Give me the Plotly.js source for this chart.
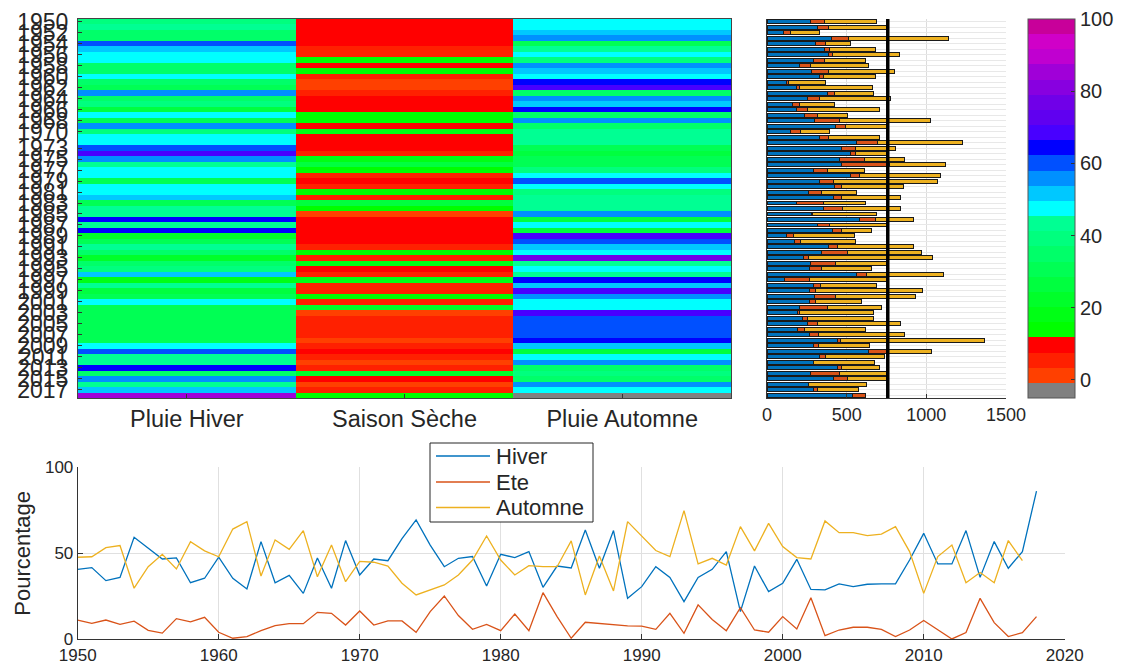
<!DOCTYPE html>
<html>
<head>
<meta charset="utf-8">
<script src="https://cdn.plot.ly/plotly-3.0.1.min.js"></script>
<style>html,body{margin:0;padding:0;background:#fff;}#chart{width:1122px;height:666px;}</style>
</head>
<body>
<div id="chart"></div>
<script>
// ---- data ----
const annees = [1950,1951,1952,1953,1954,1955,1956,1957,1958,1959,1960,1961,1962,1963,1964,1965,1966,1967,1968,1969,
1970,1971,1972,1973,1974,1975,1976,1977,1978,1979,1980,1981,1982,1983,1984,1985,1986,1987,1988,1989,
1990,1991,1992,1993,1994,1995,1996,1997,1998,1999,2000,2001,2002,2003,2004,2005,2006,2007,2008,2009,
2010,2011,2012,2013,2014,2015,2016,2017,2018];

const saisons = ['Pluie Hiver', 'Saison Sèche', 'Pluie Automne'];
const nomsSeries = ['Hiver', 'Ete', 'Automne'];

// percentages
const hiverPct = [40.7,41.7,34.1,36,59.3,52.9,46.7,47.3,32.9,35.5,47.7,35.5,29.3,56.8,32.9,37.2,26.7,47.3,29.7,57.4,
37.4,46.7,45.7,58.5,69.4,54.8,42.2,47.1,48.1,31,49.4,47.5,51,30.2,42.6,41.5,63.6,41.3,63.2,23.8,
30.6,42.2,36,21.9,36,40.7,51,16.1,42.6,27.7,32.6,46.5,29,28.7,32.2,30.6,32,32.2,32.2,46.1,
61.6,43.8,43.8,63.2,36,56.8,41.3,51,86.2];
const etePct = [11.2,9.3,11.2,8.7,10.5,5.2,3.6,12,10.1,12.8,4.1,0.6,1.6,5,7.9,9.1,9.1,15.7,15.1,8.3,
16.5,8.3,10.7,10.7,4.1,16.1,25.2,13.8,5.8,8.7,5,14.7,5,27.1,13.2,0.6,9.9,9.3,8.3,7.8,
7.7,5.8,15.1,3.5,20,11.5,5,18.4,5.4,4.1,13.2,6,24.2,2.1,5.4,7,7,5.8,1.6,5.4,
10.9,5.8,0.2,3.9,23.8,9.7,1.6,3.9,13.2];
const automnePct = [47.7,48,53.3,54.5,29.7,42.2,49.4,40.9,56.8,51.4,48,64.1,68.4,36.8,57.8,52.3,63.2,36.4,54.8,33.5,
45.3,44.8,42.6,32.6,25.8,28.7,31.6,37.4,46.1,60.1,46.1,37.4,42.8,42.2,42.2,57.2,25.8,48.4,28.1,68.4,
59.7,51.6,48.1,74.8,43.8,47.1,43.2,65.5,51.4,67.4,53.9,47.5,46.7,68.8,62,62,60.3,61.2,65.5,51,
26.7,48.1,54.8,32.9,38.8,32.9,57.4,45.7,null];

// seasonal rainfall (mm)
const hiverMM = [273,315,105,405,307,363,384,290,202,279,328,122,185,380,254,157,185,237,300,433,
149,328,559,468,525,458,466,290,521,328,426,258,420,185,357,279,580,315,412,122,
174,384,342,227,273,265,563,111,290,265,296,269,202,191,220,254,191,269,441,294,
636,328,290,441,273,420,258,290,536];
const eteMM = [90,73,44,105,63,32,27,73,71,109,25,13,17,46,73,44,69,78,158,61,
61,61,134,88,31,151,302,90,59,92,42,84,48,172,118,5,99,80,57,42,
36,59,162,31,160,78,63,153,46,42,137,38,179,10,34,61,42,57,23,31,
116,42,3,27,185,84,5,27,84];
const automneMM = [326,364,179,630,157,283,419,254,363,414,325,235,460,242,449,225,452,189,571,258,
185,317,536,248,195,256,351,229,508,647,389,217,368,263,361,405,241,363,185,384,
347,477,468,783,319,310,479,488,353,672,502,287,336,467,414,525,387,537,903,321,
279,367,379,236,294,244,363,256,null];
const moyenneMM = 758;

const etiquettesAnnees = [1950,1952,1954,1956,1958,1960,1962,1964,1966,1968,1970,1973,1975,1977,1979,1981,1983,
1985,1987,1989,1991,1993,1995,1997,1999,2001,2003,2005,2007,2009,2011,2013,2015,2017];

const valeurManquante = -3;
const couleursBandes = ['#808080','#FF4000','#FF2000','#FF0000',
'#00FF00','#00FF15','#00FF2A','#00FF3F','#00FF54','#00FF69','#00FF7E','#00FF93',
'#00FFFF','#00C8FF','#0090FF','#0050FF','#0000FF',
'#4800FF','#6000F0','#7000E8','#8800E0','#A000D8','#C000D0','#D000C8','#C8009A'];
const couleursSeries = ['#0072BD', '#D95319', '#EDB120'];

// ---- build ----
const n = couleursBandes.length;
const colorscale = [];
couleursBandes.forEach((c, i) => { colorscale.push([i / n, c]); colorscale.push([(i + 1) / n, c]); });

const zTable = annees.map((a, i) => [hiverPct[i], etePct[i], automnePct[i] === null ? valeurManquante : automnePct[i]]);

const W = 1122, H = 666;
const px = v => v / W, py = v => 1 - v / H;
const FONT = 'Liberation Sans, Arial, Helvetica, sans-serif';
const TXT = '#262626';

const traces = [
  {
    type: 'heatmap', x: saisons, y: annees, z: zTable,
    zmin: -5, zmax: 100, colorscale: colorscale, xaxis: 'x', yaxis: 'y',
    showlegend: false, hoverinfo: 'skip',
    colorbar: {
      x: px(1028), xanchor: 'left', xpad: 0, y: py(19), yanchor: 'top', ypad: 0,
      thickness: 47, thicknessmode: 'pixels', len: 379 / H, lenmode: 'fraction',
      outlinecolor: '#555', outlinewidth: 1,
      tickvals: [0, 20, 40, 60, 80, 100], ticks: 'inside', ticklen: 4, tickcolor: '#333',
      tickfont: { family: FONT, size: 20, color: TXT }
    }
  }
];
[hiverMM, eteMM, automneMM].forEach((serie, k) => {
  traces.push({ type: 'bar', orientation: 'h', y: annees, x: serie, name: nomsSeries[k] + ' mm',
    xaxis: 'x2', yaxis: 'y2', showlegend: false,
    marker: { color: couleursSeries[k], line: { color: '#1a1a1a', width: 1 } } });
});
[hiverPct, etePct, automnePct].forEach((serie, k) => {
  traces.push({ type: 'scatter', mode: 'lines', x: annees, y: serie, name: nomsSeries[k],
    xaxis: 'x3', yaxis: 'y3', showlegend: false, connectgaps: false,
    line: { color: couleursSeries[k], width: 1.3 } });
});

// legend (drawn as box + samples + text labels)
const legendeY = [456, 482, 507.5];
const shapes = [
  { type: 'line', xref: 'x2', yref: 'y2 domain', x0: moyenneMM, x1: moyenneMM, y0: 0, y1: 1,
    line: { color: '#000', width: 3.5 } },
  { type: 'rect', xref: 'paper', yref: 'paper', x0: px(430), x1: px(593), y0: py(443), y1: py(522),
    fillcolor: '#fff', line: { color: '#262626', width: 1 }, layer: 'above' }
];
const annotations = [];
nomsSeries.forEach((nom, k) => {
  shapes.push({ type: 'line', xref: 'paper', yref: 'paper', x0: px(436), x1: px(490),
    y0: py(legendeY[k]), y1: py(legendeY[k]), line: { color: couleursSeries[k], width: 1.3 }, layer: 'above' });
  annotations.push({ xref: 'paper', yref: 'paper', x: px(494), y: py(legendeY[k]), xanchor: 'left', yanchor: 'middle',
    text: nom, showarrow: false, font: { family: FONT, size: 22, color: TXT } });
});

const layout = {
  width: W, height: H, margin: { l: 0, r: 0, t: 0, b: 0 },
  paper_bgcolor: '#fff', plot_bgcolor: '#fff',
  font: { family: FONT, color: TXT },
  barmode: 'stack', bargap: 0.28,
  showlegend: false,
  xaxis: {
    domain: [px(78), px(731)], anchor: 'y', type: 'category',
    showline: true, mirror: true, linecolor: '#444', linewidth: 1,
    ticks: 'inside', ticklen: 4, tickcolor: '#333', showgrid: false, zeroline: false,
    tickfont: { family: FONT, size: 23.5, color: TXT }
  },
  yaxis: {
    domain: [py(398), py(19)], anchor: 'x', range: [2018.5, 1949.5],
    tickvals: etiquettesAnnees, ticktext: etiquettesAnnees.map(String),
    ticks: 'inside', ticklen: 4, tickcolor: '#333', ticklabelstandoff: 4,
    showline: true, mirror: true, linecolor: '#444', linewidth: 1,
    showgrid: false, zeroline: false,
    tickfont: { family: FONT, size: 23, color: TXT }
  },
  xaxis2: {
    domain: [px(767), px(1006)], anchor: 'y2', range: [0, 1500],
    tickvals: [0, 500, 1000, 1500], ticks: 'inside', ticklen: 4, tickcolor: '#333',
    showline: true, linecolor: '#333', showgrid: true, gridcolor: '#dcdcdc', zeroline: false,
    tickfont: { family: FONT, size: 18, color: TXT }
  },
  yaxis2: {
    domain: [py(398), py(19)], anchor: 'x2', range: [2018.5, 1949.5],
    dtick: 1, showticklabels: false, ticks: '', showline: true, linecolor: '#333',
    showgrid: true, gridcolor: '#e8e8e8', zeroline: false
  },
  xaxis3: {
    domain: [px(77.7), px(1064.7)], anchor: 'y3', range: [1950, 2020], dtick: 10,
    ticks: 'inside', ticklen: 5, tickcolor: '#333',
    showline: true, linecolor: '#333', showgrid: true, gridcolor: '#e0e0e0', zeroline: false,
    tickfont: { family: FONT, size: 17, color: TXT }
  },
  yaxis3: {
    domain: [py(639.3), py(467.3)], anchor: 'x3', range: [0, 100], dtick: 50,
    ticks: 'inside', ticklen: 5, tickcolor: '#333',
    showline: true, linecolor: '#333', showgrid: true, gridcolor: '#e0e0e0', zeroline: false,
    tickfont: { family: FONT, size: 17, color: TXT },
    title: { text: 'Pourcentage', font: { family: FONT, size: 22, color: TXT }, standoff: 8 }
  },
  shapes: shapes,
  annotations: annotations
};

Plotly.newPlot('chart', traces, layout, { displayModeBar: false, staticPlot: true });
</script>
</body>
</html>
